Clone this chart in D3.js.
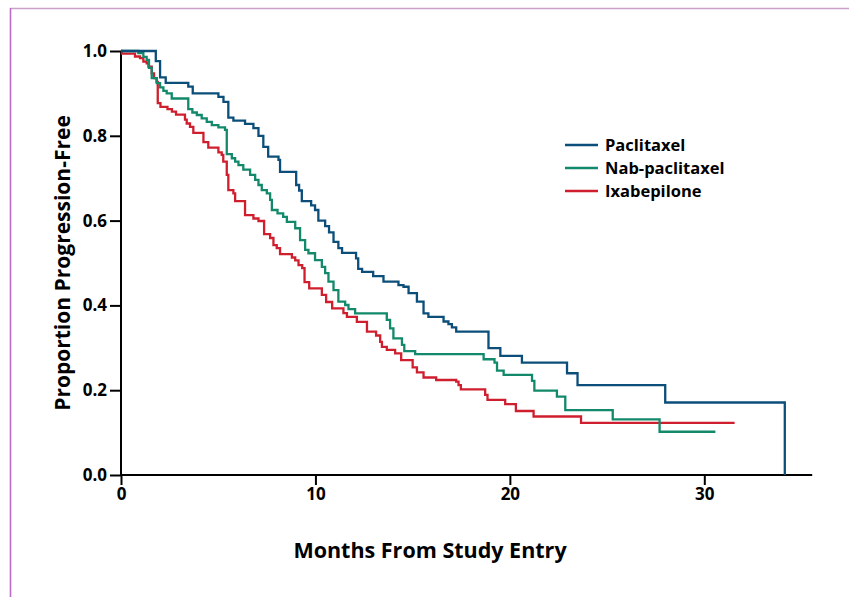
<!DOCTYPE html>
<html>
<head>
<meta charset="utf-8">
<script src="https://cdn.jsdelivr.net/npm/d3@7"></script>
<style>
  html, body { margin: 0; padding: 0; background: #fff; }
  svg { display: block; }
  text { font-family: "Open Sans", "Noto Sans", sans-serif; font-weight: 700; fill: #000; }
</style>
</head>
<body>
<svg id="chart" width="849" height="597"></svg>
<script>
// ---- Data (months, proportion progression-free) ----
const seriesNames = ["Paclitaxel", "Nab-paclitaxel", "Ixabepilone"];

const paclitaxel = [
  [0,1],[1.79,0.976],[2.01,0.938],[2.30,0.925],[3.46,0.916],[3.69,0.900],[5.01,0.892],[5.27,0.880],
  [5.52,0.843],[5.78,0.836],[6.38,0.828],[6.81,0.818],[7.07,0.800],[7.32,0.774],[7.57,0.751],[8.10,0.743],
  [8.18,0.715],[9.01,0.684],[9.16,0.671],[9.30,0.646],[9.78,0.636],[9.98,0.625],[10.15,0.600],[10.50,0.587],
  [10.70,0.572],[10.93,0.550],[11.18,0.535],[11.37,0.524],[12.09,0.511],[12.20,0.486],[12.40,0.479],[12.97,0.469],
  [13.50,0.456],[14.27,0.448],[14.53,0.444],[14.79,0.429],[15.22,0.409],[15.56,0.381],[15.81,0.373],[16.59,0.362],
  [16.84,0.356],[17.02,0.348],[17.24,0.338],[18.90,0.299],[19.51,0.281],[20.62,0.265],[22.94,0.240],[23.48,0.212],
  [27.99,0.171],[34.14,0]
];

const nabPaclitaxel = [
  [0,1],[0.89,0.995],[1.15,0.986],[1.32,0.979],[1.44,0.960],[1.58,0.936],[1.84,0.924],[2.01,0.914],[2.18,0.906],
  [2.35,0.900],[2.61,0.888],[3.46,0.863],[3.67,0.855],[3.90,0.849],[4.15,0.841],[4.41,0.833],[4.67,0.825],
  [5.01,0.820],[5.35,0.814],[5.44,0.757],[5.70,0.747],[5.87,0.739],[6.04,0.731],[6.29,0.720],[6.64,0.708],
  [6.90,0.696],[7.07,0.684],[7.24,0.672],[7.50,0.664],[7.67,0.649],[7.76,0.625],[8.05,0.617],[8.34,0.609],
  [8.53,0.597],[8.96,0.582],[9.21,0.554],[9.47,0.531],[9.64,0.523],[9.98,0.507],[10.33,0.491],[10.50,0.476],
  [10.67,0.456],[10.93,0.436],[11.18,0.409],[11.53,0.401],[11.70,0.391],[12.04,0.381],[13.67,0.366],[13.84,0.346],
  [14.01,0.322],[14.45,0.307],[14.57,0.292],[15.13,0.285],[18.65,0.273],[19.21,0.265],[19.34,0.246],[19.68,0.236],
  [21.14,0.222],[21.26,0.199],[22.42,0.185],[22.85,0.153],[25.29,0.131],[27.70,0.102],[30.57,0.102]
];

const ixabepilone = [
  [0,1],[0.05,0.994],[0.72,0.987],[0.98,0.983],[1.15,0.975],[1.32,0.971],[1.41,0.963],[1.58,0.947],[1.70,0.936],
  [1.83,0.927],[1.89,0.877],[2.03,0.868],[2.39,0.863],[2.62,0.857],[2.83,0.850],[3.29,0.838],[3.38,0.829],
  [3.55,0.821],[3.72,0.807],[4.24,0.785],[4.49,0.772],[5.01,0.761],[5.18,0.755],[5.26,0.739],[5.44,0.708],
  [5.52,0.672],[5.78,0.664],[5.87,0.646],[6.38,0.613],[6.81,0.605],[7.07,0.599],[7.36,0.568],[7.67,0.559],
  [7.84,0.542],[8.01,0.535],[8.18,0.521],[8.79,0.513],[8.96,0.506],[9.13,0.495],[9.32,0.488],[9.44,0.455],
  [9.68,0.440],[10.33,0.425],[10.55,0.408],[10.86,0.393],[11.44,0.382],[11.62,0.373],[12.13,0.361],[12.65,0.338],
  [13.12,0.329],[13.33,0.314],[13.42,0.302],[13.67,0.295],[14.10,0.287],[14.41,0.271],[15.00,0.254],[15.22,0.242],
  [15.56,0.230],[16.21,0.224],[17.24,0.220],[17.36,0.212],[17.48,0.202],[18.73,0.189],[18.85,0.177],[19.76,0.167],
  [20.31,0.151],[21.22,0.138],[23.66,0.123],[31.56,0.123]
];

const xTicks = [0, 10, 20, 30];
const yTicks = [0, 0.2, 0.4, 0.6, 0.8, 1.0];
const xTitle = "Months From Study Entry";
const yTitle = "Proportion Progression-Free";
const xMax = 35.55;

// ---- Layout ----
const colors = ["#0b4e79", "#12896a", "#cf1f2e"];
const svg = d3.select("#chart");

// frame
svg.append("line").attr("x1", 10).attr("x2", 849).attr("y1", 8.5).attr("y2", 8.5)
  .attr("stroke", "#c9a1c9").attr("stroke-width", 1.6);
svg.append("line").attr("x1", 10.5).attr("x2", 10.5).attr("y1", 8).attr("y2", 597)
  .attr("stroke", "#b86dc9").attr("stroke-width", 1.6);

const x = d3.scaleLinear().domain([0, 30]).range([121, 704.3]);
const y = d3.scaleLinear().domain([0, 1]).range([475, 51]);

// axes
const xAxis = svg.append("g").attr("transform", `translate(0,${y(0)})`)
  .call(d3.axisBottom(x).tickValues(xTicks).tickSize(10).tickPadding(3).tickFormat(d3.format("d")));
xAxis.select(".domain").attr("d", `M${x(0)},0H${x(xMax)}`);

const yAxis = svg.append("g").attr("transform", `translate(${x(0)},0)`)
  .call(d3.axisLeft(y).tickValues(yTicks).tickSize(11).tickPadding(3).tickFormat(d3.format(".1f")));
yAxis.select(".domain").attr("d", `M0,${y(1)}V${y(0)}`);

[xAxis, yAxis].forEach(g => {
  g.selectAll(".domain, .tick line").attr("stroke", "#000").attr("stroke-width", 2);
  g.selectAll(".tick text").attr("font-size", 17).attr("font-family", "'Open Sans', sans-serif")
    .attr("font-weight", 700).attr("fill", "#000");
});
xAxis.selectAll(".tick text").attr("dy", "0.72em");

// curves
const line = d3.line().x(d => x(d[0])).y(d => y(d[1])).curve(d3.curveStepAfter);
const series = [paclitaxel, nabPaclitaxel, ixabepilone];
// draw red first, then green, then blue on top
[2, 1, 0].forEach(i => {
  svg.append("path").datum(series[i]).attr("d", line)
    .attr("fill", "none").attr("stroke", colors[i]).attr("stroke-width", 2.3)
    .attr("stroke-linejoin", "miter").attr("stroke-linecap", "butt");
});

// legend
const leg = svg.append("g").attr("transform", "translate(565,145)");
seriesNames.forEach((name, i) => {
  const gy = i * 23;
  leg.append("line").attr("x1", 0).attr("x2", 33).attr("y1", gy).attr("y2", gy)
    .attr("stroke", colors[i]).attr("stroke-width", 2.3);
  leg.append("text").attr("x", 40).attr("y", gy).attr("dy", "0.36em")
    .attr("font-size", 16.5).text(name);
});

// titles
svg.append("text").attr("x", 430).attr("y", 558).attr("text-anchor", "middle")
  .attr("font-size", 21.5).text(xTitle);
svg.append("text").attr("transform", `translate(70,${(y(0) + y(1)) / 2}) rotate(-90)`)
  .attr("text-anchor", "middle").attr("font-size", 21).text(yTitle);
</script>
</body>
</html>
